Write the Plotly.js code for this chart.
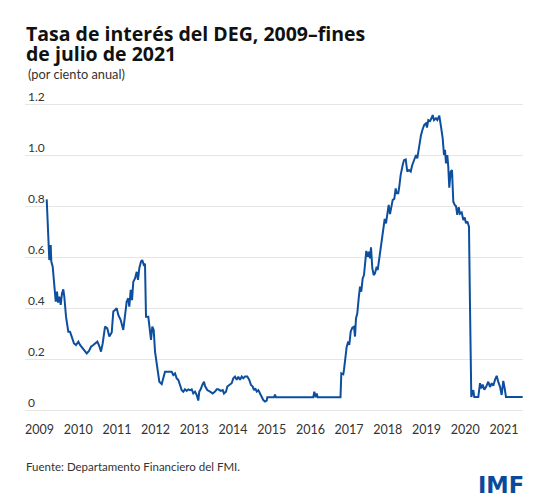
<!DOCTYPE html>
<html>
<head>
<meta charset="utf-8">
<script src="https://cdn.plot.ly/plotly-3.0.1.min.js"></script>
<style>html,body{margin:0;padding:0;background:#fff;}#chart{width:550px;height:503px;}</style>
</head>
<body>
<div id="chart"></div>
<script>
const yearFrac = [
  2009.186, 2009.253, 2009.289, 2009.305, 2009.341, 2009.393, 2009.419, 2009.452, 2009.478, 2009.512,
  2009.548, 2009.581, 2009.615, 2009.641, 2009.685, 2009.744, 2009.788, 2009.832, 2009.891, 2009.943,
  2010.003, 2010.047, 2010.106, 2010.158, 2010.220, 2010.279, 2010.331, 2010.390, 2010.434, 2010.494,
  2010.545, 2010.589, 2010.633, 2010.693, 2010.752, 2010.804, 2010.866, 2010.907, 2010.951, 2010.995,
  2011.036, 2011.098, 2011.165, 2011.209, 2011.253, 2011.295, 2011.320, 2011.357, 2011.390, 2011.424,
  2011.468, 2011.512, 2011.545, 2011.579, 2011.623, 2011.656, 2011.693, 2011.726, 2011.752, 2011.811,
  2011.855, 2011.881, 2011.915, 2011.951, 2011.985, 2012.044, 2012.096, 2012.158, 2012.199, 2012.243,
  2012.328, 2012.416, 2012.457, 2012.501, 2012.545, 2012.587, 2012.631, 2012.674, 2012.716, 2012.760,
  2012.804, 2012.845, 2012.889, 2012.933, 2012.974, 2013.018, 2013.062, 2013.103, 2013.129, 2013.165,
  2013.207, 2013.251, 2013.277, 2013.336, 2013.406, 2013.475, 2013.535, 2013.579, 2013.620, 2013.682,
  2013.734, 2013.767, 2013.819, 2013.853, 2013.904, 2013.966, 2014.008, 2014.052, 2014.096, 2014.137,
  2014.181, 2014.225, 2014.266, 2014.310, 2014.370, 2014.421, 2014.465, 2014.509, 2014.543, 2014.576,
  2014.613, 2014.654, 2014.698, 2014.742, 2014.783, 2014.827, 2014.871, 2014.886, 2014.956, 2015.059,
  2015.085, 2015.111, 2016.075, 2016.101, 2016.137, 2016.163, 2016.189, 2016.778, 2016.799, 2016.850,
  2016.868, 2016.894, 2016.938, 2016.979, 2017.005, 2017.041, 2017.083, 2017.127, 2017.153, 2017.178,
  2017.212, 2017.248, 2017.282, 2017.315, 2017.351, 2017.385, 2017.419, 2017.445, 2017.481, 2017.514,
  2017.540, 2017.566, 2017.600, 2017.636, 2017.669, 2017.713, 2017.739, 2017.773, 2017.806, 2017.842,
  2017.884, 2017.920, 2017.954, 2017.987, 2018.023, 2018.057, 2018.091, 2018.127, 2018.168, 2018.204,
  2018.230, 2018.271, 2018.297, 2018.333, 2018.385, 2018.419, 2018.463, 2018.504, 2018.548, 2018.592,
  2018.633, 2018.677, 2018.729, 2018.762, 2018.799, 2018.832, 2018.858, 2018.902, 2018.943, 2018.987,
  2019.013, 2019.047, 2019.091, 2019.135, 2019.160, 2019.194, 2019.246, 2019.279, 2019.331, 2019.375,
  2019.419, 2019.452, 2019.478, 2019.504, 2019.538, 2019.563, 2019.589, 2019.625, 2019.659, 2019.693,
  2019.729, 2019.762, 2019.796, 2019.832, 2019.866, 2019.910, 2019.951, 2019.987, 2020.021, 2020.054,
  2020.098, 2020.124, 2020.158, 2020.210, 2020.235, 2020.339, 2020.383, 2020.416, 2020.452, 2020.494,
  2020.538, 2020.597, 2020.641, 2020.685, 2020.726, 2020.770, 2020.814, 2020.855, 2020.899, 2020.943,
  2020.985, 2021.021, 2021.054, 2021.486
];
// SDR interest rate, percent per year
const sdrRate = [
  0.826, 0.588, 0.647, 0.582, 0.562, 0.457, 0.425, 0.464, 0.421, 0.444,
  0.412, 0.457, 0.473, 0.444, 0.366, 0.307, 0.307, 0.288, 0.261, 0.255,
  0.268, 0.255, 0.242, 0.235, 0.222, 0.232, 0.248, 0.255, 0.261, 0.268,
  0.251, 0.229, 0.261, 0.327, 0.320, 0.288, 0.304, 0.386, 0.392, 0.399,
  0.373, 0.353, 0.314, 0.379, 0.425, 0.438, 0.405, 0.471, 0.431, 0.503,
  0.516, 0.542, 0.510, 0.556, 0.582, 0.588, 0.569, 0.573, 0.366, 0.366,
  0.320, 0.275, 0.327, 0.314, 0.229, 0.170, 0.111, 0.102, 0.131, 0.150,
  0.150, 0.150, 0.137, 0.144, 0.124, 0.118, 0.098, 0.078, 0.072, 0.081,
  0.075, 0.081, 0.078, 0.081, 0.065, 0.072, 0.059, 0.037, 0.072, 0.081,
  0.098, 0.111, 0.094, 0.078, 0.072, 0.065, 0.072, 0.081, 0.081, 0.075,
  0.078, 0.065, 0.072, 0.092, 0.098, 0.105, 0.124, 0.131, 0.118, 0.131,
  0.118, 0.131, 0.124, 0.131, 0.131, 0.118, 0.098, 0.092, 0.078, 0.085,
  0.072, 0.078, 0.065, 0.052, 0.039, 0.033, 0.037, 0.050, 0.050, 0.050,
  0.060, 0.050, 0.050, 0.072, 0.050, 0.065, 0.050, 0.050, 0.144, 0.140,
  0.157, 0.203, 0.248, 0.268, 0.255, 0.307, 0.323, 0.327, 0.288, 0.359,
  0.379, 0.438, 0.484, 0.464, 0.516, 0.529, 0.582, 0.624, 0.601, 0.621,
  0.595, 0.638, 0.556, 0.529, 0.536, 0.562, 0.549, 0.588, 0.614, 0.673,
  0.719, 0.749, 0.732, 0.780, 0.804, 0.768, 0.804, 0.824, 0.828, 0.869,
  0.850, 0.850, 0.876, 0.922, 0.961, 0.980, 0.983, 0.935, 0.941, 0.935,
  0.961, 0.980, 1.000, 0.987, 1.026, 1.046, 1.078, 1.102, 1.118, 1.124,
  1.108, 1.137, 1.133, 1.146, 1.157, 1.137, 1.144, 1.137, 1.154, 1.111,
  1.065, 1.000, 1.020, 0.967, 1.000, 0.954, 0.872, 0.935, 0.941, 0.817,
  0.804, 0.800, 0.765, 0.795, 0.770, 0.775, 0.745, 0.755, 0.732, 0.740,
  0.719, 0.412, 0.051, 0.078, 0.051, 0.051, 0.105, 0.085, 0.100, 0.080,
  0.090, 0.111, 0.090, 0.105, 0.095, 0.118, 0.134, 0.110, 0.092, 0.059,
  0.114, 0.085, 0.051, 0.051
];
const yearTicks = [2009, 2010, 2011, 2012, 2013, 2014, 2015, 2016, 2017, 2018, 2019, 2020, 2021];
const yearLabels = ['2009','2010','2011','2012','2013','2014','2015','2016','2017','2018','2019','2020','2021'];
const rateTicks = [0, 0.2, 0.4, 0.6, 0.8, 1.0, 1.2];
const rateLabels = ['0', '0.2', '0.4', '0.6', '0.8', '1.0', '1.2'];
const titleLines = ['Tasa de interés del DEG, 2009–fines', 'de julio de 2021'];

const FONT = 'Lato, "Open Sans", sans-serif';
const TITLE_FONT = '"Open Sans", Lato, sans-serif';

const W = 550, H = 503;
const M = {l: 25, r: 27, t: 99, b: 93};
const plotH = H - M.t - M.b;
const plotW = W - M.l - M.r;
// convert a page pixel position to paper coordinates (for the surrounding texts)
const px = v => (v - M.l) / plotW;
const py = v => (H - M.b - v) / plotH;

const trace = {
  x: yearFrac,
  y: sdrRate,
  type: 'scatter',
  mode: 'lines',
  line: {color: '#0d4f9e', width: 2},
  hoverinfo: 'x+y'
};

const annotations = rateTicks.map((v, i) => ({
  text: rateLabels[i],
  xref: 'paper', yref: 'y',
  x: px(26), y: v,
  xanchor: 'left', yanchor: 'bottom',
  yshift: -2,
  showarrow: false,
  font: {family: FONT, size: 12, color: '#333333'}
}));

annotations.push(
  {
    text: '(por ciento anual)',
    xref: 'paper', yref: 'paper',
    x: px(26), y: py(74),
    xanchor: 'left', yanchor: 'middle',
    showarrow: false,
    font: {family: FONT, size: 12.8, color: '#333333'}
  },
  {
    text: 'Fuente: Departamento Financiero del FMI.',
    xref: 'paper', yref: 'paper',
    x: px(24), y: py(466),
    xanchor: 'left', yanchor: 'middle',
    showarrow: false,
    font: {family: FONT, size: 11.5, color: '#333333'}
  },
  {
    text: '<b>IMF</b>',
    xref: 'paper', yref: 'paper',
    x: px(526), y: py(485),
    xanchor: 'right', yanchor: 'middle',
    showarrow: false,
    font: {family: '"DejaVu Sans", "Liberation Sans", sans-serif', size: 22.5, color: '#0b4a9b'}
  }
);

const layout = {
  width: W,
  height: H,
  paper_bgcolor: '#ffffff',
  plot_bgcolor: '#ffffff',
  margin: {l: M.l, r: M.r, t: M.t, b: M.b, pad: 0},
  showlegend: false,
  font: {family: FONT, color: '#333333', size: 12},
  title: {
    // line spacing follows the 15.4px base size (~20px); glyphs are drawn larger
    text: titleLines.map(s => '<span style="font-size:19.5px">' + s + '</span>').join('<br>'),
    font: {family: TITLE_FONT, size: 15.4, color: '#111111', weight: 700},
    xref: 'container', yref: 'container',
    x: 26 / W, xanchor: 'left',
    y: 1 - 41 / H, yanchor: 'top',
    pad: {t: 0, b: 0, l: 0, r: 0}
  },
  xaxis: {
    range: [2008.625, 2021.494],
    tickmode: 'array',
    tickvals: yearTicks,
    ticktext: yearLabels,
    showgrid: false,
    zeroline: false,
    showline: false,
    ticks: '',
    ticklabelstandoff: 10,
    tickfont: {family: FONT, size: 12.5, color: '#333333'},
    fixedrange: true
  },
  yaxis: {
    range: [0, plotH / 255],
    tickmode: 'array',
    tickvals: rateTicks,
    showticklabels: false,
    showgrid: true,
    gridcolor: '#e6e6e6',
    gridwidth: 1,
    zeroline: true,
    zerolinecolor: '#e6e6e6',
    zerolinewidth: 1,
    showline: false,
    ticks: '',
    fixedrange: true
  },
  annotations: annotations
};

Plotly.newPlot('chart', [trace], layout, {displayModeBar: false, staticPlot: true});
</script>
</body>
</html>
